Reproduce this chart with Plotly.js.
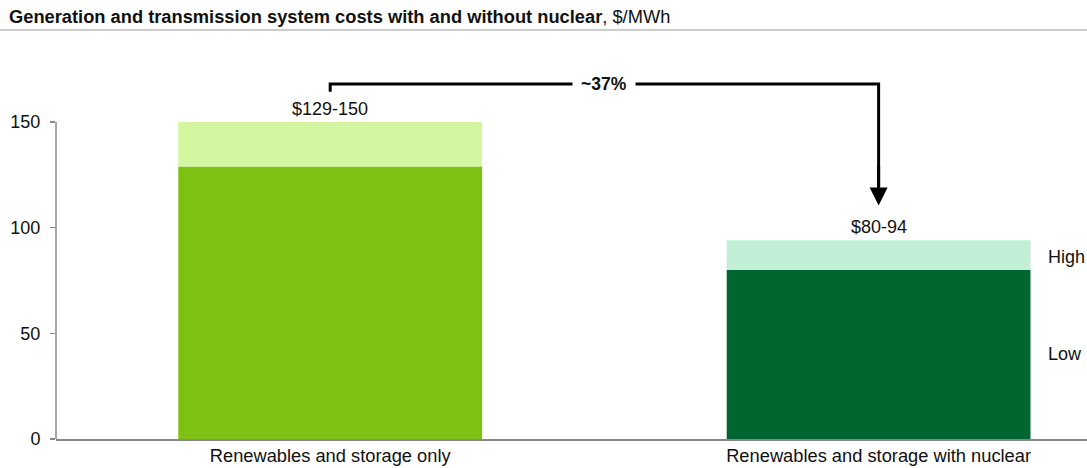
<!DOCTYPE html>
<html><head><meta charset="utf-8">
<script src="https://cdn.plot.ly/plotly-3.0.1.min.js"></script>
<style>body{margin:0;background:#fff}#c{width:1087px;height:468px}</style>
</head><body><div id="c"></div>
<script>
const categories = ["Renewables and storage only", "Renewables and storage with nuclear"];
const lowValues = [129, 80];
const highValues = [150, 94];
const rangeLabels = ["$129-150", "$80-94"];
const lowColors = ["#7DC113", "#00662F"];
const highColors = ["#D5F6A0", "#C0EFD6"];
const reductionLabel = "~37%";
const yTicks = [0, 50, 100, 150];

const FONT = 'Arial, Liberation Sans, sans-serif';
const xs = [0, 1];
const traces = [
  {type:'bar', x: xs, y: lowValues, marker:{color: lowColors}, width:0.554, hoverinfo:'skip', name:'Low'},
  {type:'bar', x: xs, y: highValues.map((h,i)=>h-lowValues[i]), base: lowValues, marker:{color: highColors}, width:0.554, hoverinfo:'skip', name:'High'}
];

const annotations = [];
xs.forEach((x,i)=>{
  annotations.push({x:x, y:highValues[i], xref:'x', yref:'y', text:rangeLabels[i], showarrow:false, yanchor:'bottom', yshift:1, font:{family:FONT, size:18, color:'#111'}});
});
annotations.push({x:0.5, y:168, xref:'x', yref:'y', text:'<b>'+reductionLabel+'</b>', showarrow:false, bgcolor:'#fff', borderpad:8, font:{family:FONT, size:17.5, color:'#111'}});
annotations.push({x:1, y:110.5, ax:1, ay:130, xref:'x', yref:'y', axref:'x', ayref:'y', text:'', showarrow:true, arrowhead:2, arrowsize:1.2, arrowwidth:3, arrowcolor:'#000'});
annotations.push({x:1.38, y:86, xref:'x', yref:'y', text:'High', showarrow:false, xanchor:'left', xshift:-41, font:{family:FONT, size:18, color:'#111'}});
annotations.push({x:1.38, y:40, xref:'x', yref:'y', text:'Low', showarrow:false, xanchor:'left', xshift:-41, font:{family:FONT, size:18, color:'#111'}});
annotations.push({xref:'paper', yref:'paper', xanchor:'left', yanchor:'middle', x:-56/1031, y:1+(40-17)/399, text:'<b>Generation and transmission system costs with and without nuclear</b>, $/MWh', showarrow:false, xshift:7, font:{family:FONT, size:18.3, color:'#111'}});

const layout = {
  width:1087, height:468,
  margin:{l:56, r:0, t:40, b:29},
  paper_bgcolor:'#fff', plot_bgcolor:'#fff',
  barmode:'overlay', showlegend:false,
  xaxis:{range:[-0.5,1.38], tickvals:xs, ticktext:categories, showline:true, linecolor:'#888', linewidth:1.5, ticks:'', showgrid:false, zeroline:false, fixedrange:true, tickfont:{family:FONT, size:18.3, color:'#111'}},
  yaxis:{range:[0,188.8], tickvals:yTicks, showline:false, ticks:'outside', ticklen:5, tickwidth:1.5, tickcolor:'#888', ticklabelstandoff:6, showgrid:false, zeroline:false, tickfont:{family:FONT, size:18, color:'#111'}},
  shapes:[
    {type:'path', xref:'x', yref:'y', path:'M 0 164.3 L 0 168 L 1 168 L 1 118', line:{color:'#000', width:3}},
    {type:'line', xref:'paper', yref:'y', x0:0, x1:0, y0:0, y1:150, line:{color:'#888', width:1.5}},
    {type:'line', xref:'paper', yref:'paper', x0:-56/1031, x1:1, y0:1+10/399, y1:1+10/399, line:{color:'#999', width:1}}
  ],
  annotations: annotations
};
Plotly.newPlot('c', traces, layout, {displayModeBar:false, staticPlot:true});
</script></body></html>
